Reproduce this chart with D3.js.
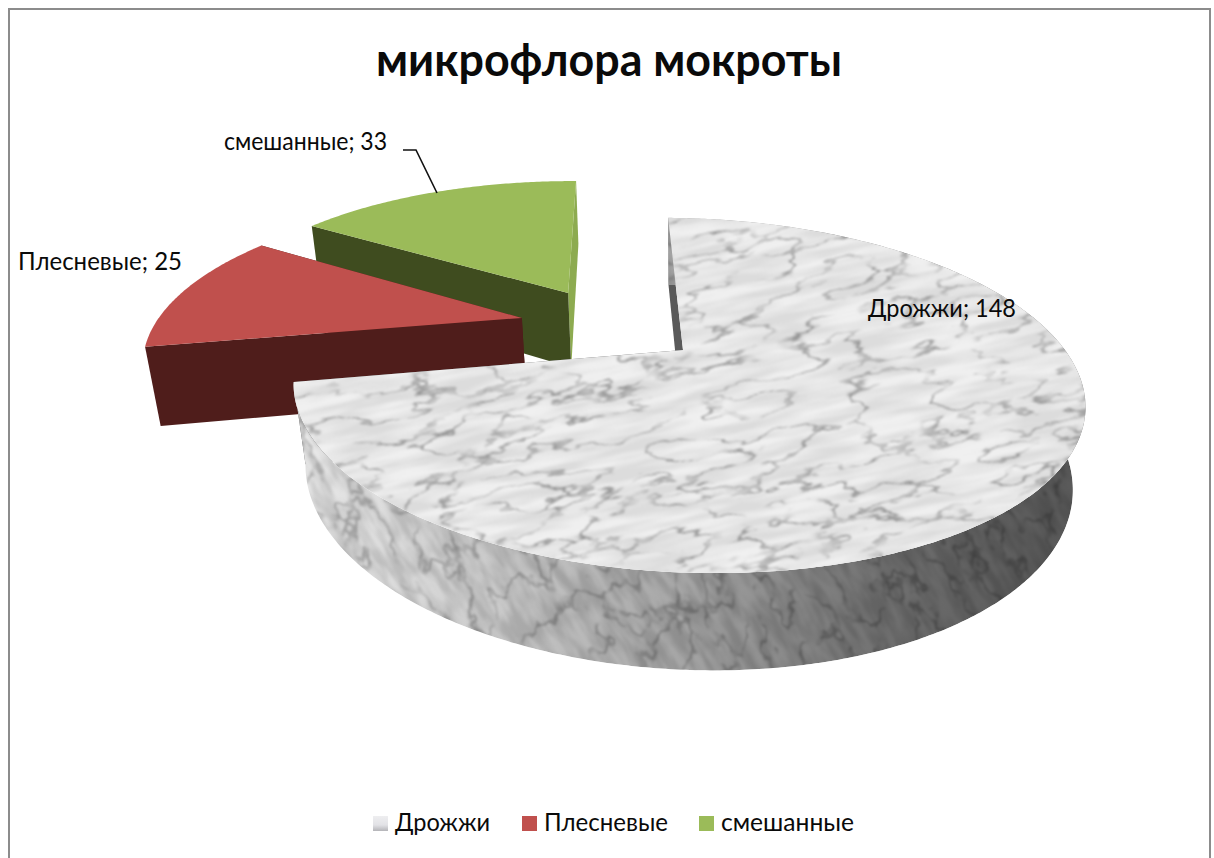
<!DOCTYPE html>
<html lang="ru">
<head>
<meta charset="utf-8">
<title>микрофлора мокроты</title>
<script src="https://cdn.jsdelivr.net/npm/d3@7/dist/d3.min.js"></script>
<style>
  html, body { margin: 0; padding: 0; background: #fff; }
  svg { display: block; }
  text { font-family: Lato, "Open Sans", sans-serif; fill: #0a0a0a; }
</style>
</head>
<body>
<svg id="chart" width="1214" height="858"></svg>
<script>
// Chart content
const chartTitle = "микрофлора мокроты";
const categories = ["Дрожжи", "Плесневые", "смешанные"];
const counts = [148, 25, 33];

// Slice appearance, by category
const topColors = [null, "#c0504d", "#9bbb59"];
const startWallColors = ["#5a5a5a", "#4f1d1b", "#3f4c1f"];
const endWallColors = ["#5a5a5a", "#4f1d1b", "#8dab50"];
const pullOffsets = [[0, 0], [-0.431, -0.203], [-0.306, -0.376]];

const svg = d3.select("#chart");
const defs = svg.append("defs");

// Oblique perspective camera: u runs left to right, v back to front, h is depth below the top face
const cam = { cx: 683, cy: 350, rx: 382, ry: 166, drop: 82, skew: 24, p: 0.256, q: 0.03 };
function project(u, v, h) {
  const d = 1 - cam.p * v + cam.q * h;
  return [cam.cx + (cam.rx * u + cam.skew * v) / d, cam.cy + (cam.ry * v + cam.drop * h) / d];
}

const startDeg = 0.8;
const pie = d3.pie().sort(null)
  .startAngle(startDeg * Math.PI / 180)
  .endAngle((startDeg + 360) * Math.PI / 180);
const arcs = pie(counts);

const polyline = d3.line();
const closed = pts => polyline(pts) + "Z";

function rimPoints(a, off, h) {
  const n = Math.ceil((a.endAngle - a.startAngle) / 0.01);
  return d3.range(n + 1).map(i => {
    const t = a.startAngle + (a.endAngle - a.startAngle) * i / n;
    return project(Math.sin(t) + off[0], -Math.cos(t) + off[1], h);
  });
}
function radialWall(angle, off) {
  const u = Math.sin(angle) + off[0], v = -Math.cos(angle) + off[1];
  return closed([project(u, v, 0), project(off[0], off[1], 0), project(off[0], off[1], 1), project(u, v, 1)]);
}

// Transfer table: a flat tone with a narrow dark dip around mid-level noise
function dipTable(base, low, width) {
  return d3.range(65).map(i => {
    const x = i / 64 - 0.5;
    return (base - (base - low) * Math.exp(-(x * x) / (2 * width * width))).toFixed(3);
  }).join(" ");
}
// Transfer table: a ramp across the range the noise actually occupies
function rampTable(from, to) {
  return d3.range(17).map(i => {
    const x = Math.max(0, Math.min(1, (i / 16 - 0.3) / 0.4));
    return (from + (to - from) * x).toFixed(3);
  }).join(" ");
}

// Procedural marble: soft broken veins, gentle patches and a directional streak layer
function marbleFilter(id, o) {
  const f = defs.append("filter").attr("id", id)
    .attr("x", 0).attr("y", 0).attr("width", 1).attr("height", 1)
    .attr("color-interpolation-filters", "sRGB");
  const gray = (inName, table, outName) => {
    f.append("feColorMatrix").attr("in", inName).attr("type", "matrix")
      .attr("values", "1 0 0 0 0  1 0 0 0 0  1 0 0 0 0  0 0 0 0 1")
      .attr("result", outName + "G");
    const ct = f.append("feComponentTransfer").attr("in", outName + "G").attr("result", outName);
    ["feFuncR", "feFuncG", "feFuncB"].forEach(c =>
      ct.append(c).attr("type", "table").attr("tableValues", table));
  };
  f.append("feTurbulence").attr("type", "fractalNoise").attr("baseFrequency", o.veinFreq)
    .attr("numOctaves", 4).attr("seed", 11).attr("result", "nVein");
  f.append("feTurbulence").attr("type", "fractalNoise").attr("baseFrequency", o.patchFreq)
    .attr("numOctaves", 3).attr("seed", 4).attr("result", "nPatch");
  f.append("feTurbulence").attr("type", "fractalNoise").attr("baseFrequency", o.streakFreq)
    .attr("numOctaves", 3).attr("seed", 23).attr("result", "nStreak");
  gray("nVein", dipTable(o.base, o.veinLow, o.veinWidth), "veins");
  gray("nPatch", rampTable(o.patchDark, o.base), "patches");
  gray("nStreak", rampTable(o.streakDark, 1), "streaks");
  f.append("feBlend").attr("in", "veins").attr("in2", "patches").attr("mode", "lighten").attr("result", "broken");
  f.append("feBlend").attr("in", "broken").attr("in2", "streaks").attr("mode", "multiply").attr("result", "stone");
  f.append("feGaussianBlur").attr("in", "stone").attr("stdDeviation", o.blur);
}
marbleFilter("marbleTop", {
  veinFreq: "0.014 0.04", patchFreq: "0.025 0.05", streakFreq: "0.012 0.09",
  base: 0.945, veinLow: 0.6, veinWidth: 0.016, patchDark: 0.6, streakDark: 0.92, blur: 1
});
marbleFilter("marbleSide", {
  veinFreq: "0.03 0.02", patchFreq: "0.05 0.04", streakFreq: "0.10 0.025",
  base: 0.92, veinLow: 0.68, veinWidth: 0.02, patchDark: 0.6, streakDark: 0.86, blur: 1.1
});

// Side shading runs from a lit left edge to deep shadow on the right
const sideShade = defs.append("linearGradient").attr("id", "sideShade")
  .attr("gradientUnits", "userSpaceOnUse")
  .attr("x1", 295).attr("x2", 1085).attr("y1", 0).attr("y2", 0);
[[0, 0.0], [0.2, 0.1], [0.5, 0.3], [0.72, 0.5], [0.86, 0.58], [1, 0.62]].forEach(([o, a]) =>
  sideShade.append("stop").attr("offset", o).attr("stop-color", "#000").attr("stop-opacity", a));

const swatchGrad = defs.append("linearGradient").attr("id", "swatchMarble")
  .attr("x1", 0).attr("x2", 0).attr("y1", 0).attr("y2", 1);
[[0, "#eeeef0"], [0.6, "#e2e2e6"], [1, "#b4b4b8"]].forEach(([o, c]) =>
  swatchGrad.append("stop").attr("offset", o).attr("stop-color", c));

// Frame
svg.append("path")
  .attr("d", "M9,858V9H1210V858")
  .attr("fill", "none").attr("stroke", "#8c8c8c").attr("stroke-width", 2);

// Title
svg.append("text").attr("x", 376).attr("y", 76)
  .attr("font-size", 45).attr("font-weight", 700)
  .attr("textLength", 466).attr("lengthAdjust", "spacingAndGlyphs").text(chartTitle);

// Slices, furthest first
const plot = svg.append("g");
[2, 1, 0].forEach(i => {
  const a = arcs[i], off = pullOffsets[i];
  const g = plot.append("g").attr("class", "slice");
  const topPath = closed([project(off[0], off[1], 0), ...rimPoints(a, off, 0)]);

  g.append("path").attr("d", radialWall(a.endAngle, off)).attr("fill", endWallColors[i]);
  g.append("path").attr("d", radialWall(a.startAngle, off)).attr("fill", startWallColors[i]);

  if (i === 0) {
    // The larger slice carries the stone texture on its rim and top
    const sidePath = closed([...rimPoints(a, off, 0), ...rimPoints(a, off, 1).reverse()]);
    defs.append("clipPath").attr("id", "sideClip").append("path").attr("d", sidePath);
    defs.append("clipPath").attr("id", "topClip").append("path").attr("d", topPath);
    const side = g.append("g").attr("clip-path", "url(#sideClip)");
    side.append("g").attr("transform", "rotate(-30 680 550)")
      .append("rect").attr("x", 100).attr("y", 100).attr("width", 1200).attr("height", 1000)
      .attr("filter", "url(#marbleSide)");
    side.append("path").attr("d", sidePath).attr("fill", "url(#sideShade)");
    g.append("g").attr("clip-path", "url(#topClip)")
      .append("g").attr("transform", "rotate(-12 680 400)")
      .append("rect").attr("x", 150).attr("y", 100).attr("width", 1100).attr("height", 600)
      .attr("filter", "url(#marbleTop)");
  } else {
    g.append("path").attr("d", topPath).attr("fill", topColors[i]);
  }
});

// Data labels
const labelSize = 25;
const labelSpots = [[868, 317], [18, 270], [224, 150]];
const labelWidths = [148, 164, 163];
categories.forEach((c, i) => {
  svg.append("text").attr("x", labelSpots[i][0]).attr("y", labelSpots[i][1])
    .attr("font-size", labelSize)
    .attr("textLength", labelWidths[i]).attr("lengthAdjust", "spacingAndGlyphs")
    .text(`${c}; ${counts[i]}`);
});
svg.append("path").attr("d", "M403,150H416L437,193")
  .attr("fill", "none").attr("stroke", "#111").attr("stroke-width", 1.6);

// Legend
const legendSwatchX = [373, 522, 699];
const legendTextX = [395, 544, 721];
const legendTextW = [95, 124, 133];
const legendFills = ["url(#swatchMarble)", topColors[1], topColors[2]];
categories.forEach((c, i) => {
  svg.append("rect").attr("x", legendSwatchX[i]).attr("y", 816)
    .attr("width", 15).attr("height", 15).attr("fill", legendFills[i]);
  svg.append("text").attr("x", legendTextX[i]).attr("y", 831)
    .attr("font-size", labelSize)
    .attr("textLength", legendTextW[i]).attr("lengthAdjust", "spacingAndGlyphs").text(c);
});
</script>
</body>
</html>
